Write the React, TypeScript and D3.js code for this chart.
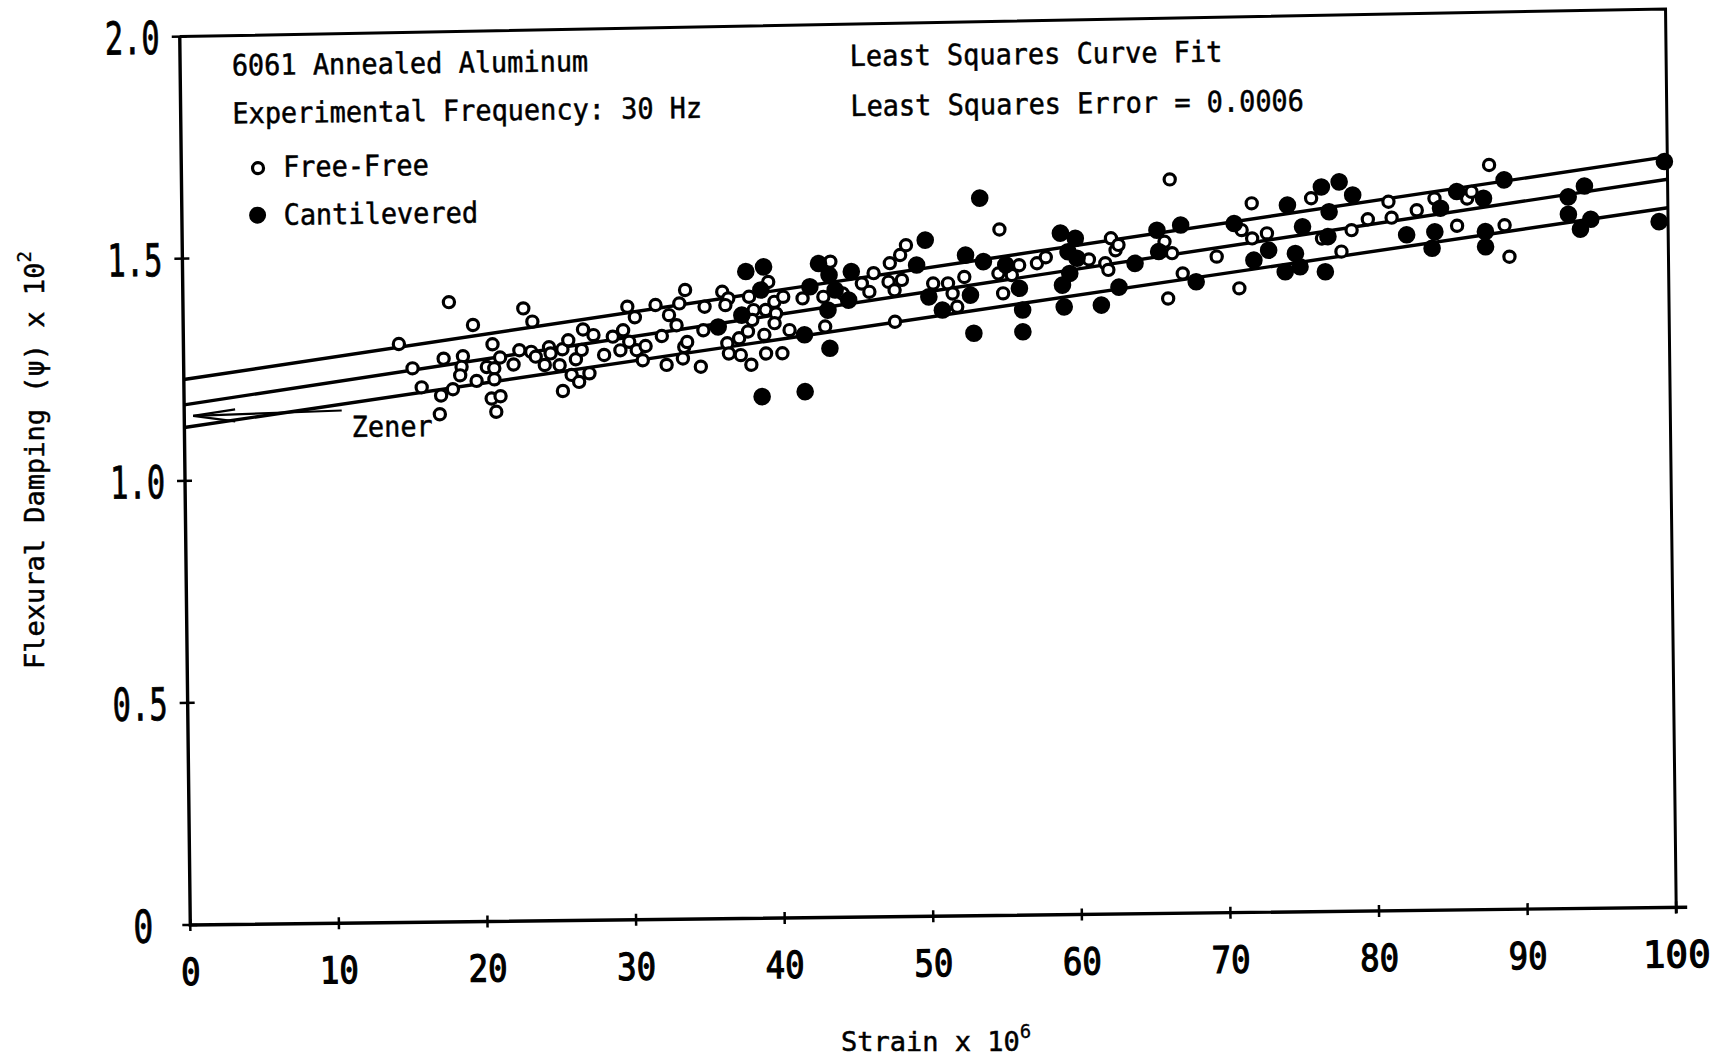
import React from 'react';
import * as d3 from 'd3';

// Free-Free specimens (open circles): [strain x 1e6, damping x 1e2]
const freeFree: [number, number][] = [
  [14.5,1.302],[17.9,1.395],[15.4,1.247],[16.0,1.204],[17.3,1.185],[17.2,1.143],[18.1,1.199],[17.5,1.268],
  [18.8,1.273],[18.7,1.249],[18.6,1.230],[19.5,1.343],[19.7,1.217],[20.4,1.248],[20.8,1.299],[20.9,1.245],
  [20.9,1.220],[20.7,1.177],[21.3,1.182],[21.0,1.147],[21.3,1.269],[22.2,1.253],[22.6,1.285],[22.9,1.379],
  [23.5,1.349],[23.4,1.281],[23.7,1.270],[24.3,1.251],[24.6,1.291],[24.7,1.277],[25.3,1.250],[25.5,1.286],
  [25.9,1.306],[26.1,1.228],[26.4,1.263],[26.6,1.212],[26.8,1.284],[26.9,1.330],[27.3,1.231],[27.6,1.317],
  [25.5,1.192],[28.3,1.272],[28.9,1.313],[29.4,1.282],[29.6,1.327],[29.9,1.380],[30.0,1.301],[30.4,1.356],
  [30.5,1.282],[30.9,1.259],[31.1,1.291],[31.8,1.383],[32.2,1.313],[32.5,1.248],[32.7,1.360],[33.2,1.337],
  [33.4,1.386],[33.7,1.288],[33.8,1.416],[33.6,1.262],[33.9,1.299],[34.8,1.243],[35.0,1.325],[35.1,1.378],
  [36.3,1.411],[36.7,1.396],[36.5,1.381],[36.6,1.295],[36.7,1.272],[37.4,1.306],[37.5,1.268],[38.2,1.246],
  [39.4,1.432],[38.1,1.399],[38.4,1.369],[38.3,1.347],[38.0,1.321],[39.2,1.369],[39.8,1.387],[40.4,1.398],
  [39.9,1.361],[39.8,1.339],[39.1,1.313],[39.2,1.271],[40.3,1.271],[40.8,1.323],[41.7,1.394],[43.6,1.476],
  [43.1,1.397],[44.4,1.404],[43.2,1.330],[45.7,1.426],[46.5,1.449],[46.2,1.407],[47.5,1.429],[47.6,1.471],
  [48.3,1.489],[48.7,1.511],[48.4,1.433],[47.9,1.410],[47.9,1.339],[50.5,1.424],[51.5,1.424],[51.8,1.401],
  [52.6,1.438],[52.1,1.371],[55.0,1.544],[54.9,1.445],[56.3,1.463],[55.8,1.441],[55.2,1.400],
  [57.5,1.467],[58.1,1.480],[61.0,1.474],[62.1,1.465],[62.3,1.450],[62.5,1.521],[62.8,1.494],[63.0,1.506],
  [66.5,1.652],[66.1,1.512],[66.6,1.486],[67.3,1.440],[66.3,1.384],[69.6,1.477],[71.3,1.536],[72.0,1.596],
  [72.0,1.517],[73.0,1.528],[71.1,1.405],[76.7,1.515],[76.0,1.606],[78.0,1.485],
  [78.7,1.533],[79.8,1.557],[81.2,1.596],[81.4,1.560],[83.1,1.576],[84.3,1.602],[85.8,1.540],[86.5,1.601],
  [86.8,1.616],[88.0,1.676],[89.0,1.540],[89.3,1.469],
];

// Cantilevered specimens (filled circles)
const cantilevered: [number, number][] = [
  [36.0,1.332],[37.9,1.456],[39.1,1.466],[38.9,1.414],[37.6,1.358],[41.8,1.312],[42.2,1.420],[42.8,1.472],
  [43.5,1.446],[43.4,1.367],[43.9,1.412],[44.8,1.389],[43.5,1.281],[45.0,1.453],[50.0,1.522],[49.4,1.466],
  [50.2,1.394],[52.7,1.487],[53.0,1.397],[51.1,1.364],[53.2,1.311],[53.9,1.472],[55.4,1.464],[56.3,1.411],
  [56.5,1.362],[56.5,1.313],[38.9,1.174],[41.8,1.184],[53.7,1.615],
  [59.1,1.534],[60.1,1.522],[59.6,1.492],[60.2,1.477],[59.7,1.443],[59.2,1.417],[59.3,1.368],[61.8,1.371],
  [64.1,1.464],[63.0,1.411],[65.6,1.538],[67.2,1.549],[65.7,1.490],[68.2,1.421],[70.8,1.551],[73.1,1.490],
  [72.1,1.468],[74.4,1.591],[75.4,1.542],[74.9,1.482],[75.2,1.452],[74.2,1.441],[76.9,1.440],[76.7,1.631],
  [77.9,1.642],[77.2,1.575],
  [77.1,1.519],[78.8,1.612],[82.4,1.521],[84.3,1.527],[84.1,1.490],[84.7,1.580],[85.8,1.617],[87.6,1.601],
  [87.7,1.526],[87.7,1.492],[89.0,1.642],[93.3,1.602],[94.4,1.626],[93.3,1.563],[94.8,1.551],[94.1,1.529],
  [99.8,1.679],[99.4,1.544],
];

// Least squares fit lines (value at strain 0 and at strain 100)
const fitStart = [1.228, 1.171, 1.120];
const fitEnd = [1.690, 1.639, 1.575];
const fitX = [0, 100];

const xTicks = [0, 10, 20, 30, 40, 50, 60, 70, 80, 90, 100];
const yTicks = [0, 0.5, 1.0, 1.5, 2.0];
const yTickLabels = ['0', '0.5', '1.0', '1.5', '2.0'];

// Zener arrow (data coords): tail then tip
const zenerTail: [number, number] = [10.6, 1.154];
const zenerTip: [number, number] = [0.6, 1.146];

const FONT = '"DejaVu Sans Mono", "Liberation Mono", monospace';

export default function App() {
  const W = 1735, H = 1059;
  const left = 190.3, bottom = 925, pw = 1486, ph = 888.5;
  const top = bottom - ph, right = left + pw;
  const x = d3.scaleLinear().domain([0, 100]).range([left, right]);
  const y = d3.scaleLinear().domain([0, 2]).range([bottom, top]);
  const line = d3.line<[number, number]>().x(d => x(d[0])).y(d => y(d[1]));

  const tailX = x(zenerTail[0]), tailY = y(zenerTail[1]);
  const tipX = x(zenerTip[0]), tipY = y(zenerTip[1]);

  const txt = (s: string, tx: number, ty: number, per = 16.2, size = 29) => (
    <text x={tx} y={ty} fontFamily={FONT} fontSize={size} textLength={s.length * per}
      lengthAdjust="spacingAndGlyphs" fill="#000" stroke="#000" strokeWidth={0.5}>{s}</text>
  );

  return (
    <svg width={W} height={H} viewBox={`0 0 ${W} ${H}`}
      style={{ position: 'absolute', left: 0, top: 0, display: 'block', background: '#fff' }}>
      <rect x={0} y={0} width={W} height={H} fill="#fff" />
      <g transform={`rotate(-0.68 ${left} ${bottom})`}>
        {/* frame */}
        <path d={`M${left},${top} L${left},${bottom} L${right + 11},${bottom}`} fill="none" stroke="#000" strokeWidth={3.4} />
        <path d={`M${left},${top} L${right},${top - 10} L${right},${bottom + 6}`} fill="none" stroke="#000" strokeWidth={3} />
        {/* ticks */}
        {yTicks.map(v => (
          <line key={'yt' + v} x1={left - 8} x2={left + 7} y1={y(v)} y2={y(v)} stroke="#000" strokeWidth={2.5} />
        ))}
        {xTicks.map(v => (
          <line key={'xt' + v} x1={x(v)} x2={x(v)} y1={bottom - 6} y2={bottom + 6} stroke="#000" strokeWidth={2.5} />
        ))}
        {/* tick labels */}
        {yTicks.map((v, i) => (
          <text key={'yl' + v} x={v === 0 ? left - 37 : left - 20} y={y(v) + 17} textAnchor="end"
            fontFamily={FONT} fontSize={45} textLength={v === 0 ? 20 : 55} lengthAdjust="spacingAndGlyphs"
            fill="#000" stroke="#000" strokeWidth={0.8}>{yTickLabels[i]}</text>
        ))}
        {xTicks.map(v => {
          const s = String(v);
          return (
            <text key={'xl' + v} x={x(v)} y={bottom + 60} textAnchor="middle" fontFamily={FONT}
              fontSize={37} textLength={s.length === 3 ? 68 : s.length * 19.5}
              lengthAdjust="spacingAndGlyphs" fill="#000" stroke="#000" strokeWidth={1.2}>{s}</text>
          );
        })}
        {/* fit lines */}
        {fitStart.map((s, i) => (
          <path key={'fit' + i} d={line([[fitX[0], s], [fitX[1], fitEnd[i]]]) || ''} fill="none" stroke="#000" strokeWidth={3.4} />
        ))}
        {/* Zener arrow */}
        <line x1={tailX} y1={tailY} x2={tipX} y2={tipY} stroke="#000" strokeWidth={2.2} />
        <path d={`M${tipX + 42},${tipY - 6} L${tipX},${tipY} L${tipX + 42},${tipY + 6}`} fill="none" stroke="#000" strokeWidth={2.2} />
        {txt('Zener', 357.6, 439)}
        {/* points */}
        {freeFree.map((d, i) => (
          <circle key={'o' + i} cx={x(d[0])} cy={y(d[1])} r={5.6} fill="#fff" stroke="#000" strokeWidth={3.2} />
        ))}
        {cantilevered.map((d, i) => (
          <circle key={'f' + i} cx={x(d[0])} cy={y(d[1])} r={8.8} fill="#000" />
        ))}
        {/* annotations */}
        {txt('6061 Annealed Aluminum', 242, 76)}
        {txt('Experimental Frequency: 30 Hz', 242, 124)}
        <circle cx={267} cy={169} r={5.5} fill="#fff" stroke="#000" strokeWidth={3.2} />
        {txt('Free-Free', 292, 178)}
        <circle cx={266} cy={216} r={8.5} fill="#000" />
        {txt('Cantilevered', 292, 226)}
        {txt('Least Squares Curve Fit', 860, 74)}
        {txt('Least Squares Error = 0.0006', 860, 124)}
      </g>
      {/* axis titles */}
      <text x={841} y={1051} fontFamily={FONT} fontSize={27} fill="#000" stroke="#000" strokeWidth={0.5}>
        Strain x 10<tspan dy={-13} fontSize={19} strokeWidth={0.3}>6</tspan>
      </text>
      <text transform="translate(44,459) rotate(-90)" x={-210} y={0} fontFamily={FONT} fontSize={27}
        fill="#000" stroke="#000" strokeWidth={0.5}>
        Flexural Damping (ψ) x 10<tspan dy={-13} fontSize={19} strokeWidth={0.3}>2</tspan>
      </text>
    </svg>
  );
}
